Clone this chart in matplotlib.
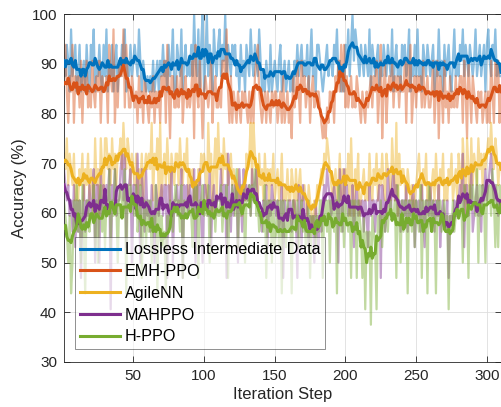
import numpy as np
import pandas as pd
import matplotlib
matplotlib.use('Agg')
import matplotlib.pyplot as plt

# raw accuracy per iteration step (310 steps)
lossless_raw = [
    90.6, 87.5, 93.8, 90.6, 84.4, 96.9, 87.5, 90.6, 93.8, 84.4,
    87.5, 93.8, 84.4, 87.5, 90.6, 84.4, 93.8, 87.5, 84.4, 93.8,
    90.6, 96.9, 84.4, 90.6, 87.5, 93.8, 87.5, 84.4, 93.8, 87.5,
    96.9, 84.4, 90.6, 87.5, 93.8, 84.4, 90.6, 93.8, 84.4, 90.6,
    87.5, 93.8, 90.6, 96.9, 84.4, 90.6, 87.5, 93.8, 87.5, 90.6,
    93.8, 90.6, 87.5, 96.9, 90.6, 84.4, 90.6, 87.5, 84.4, 87.5,
    84.4, 87.5, 84.4, 90.6, 84.4, 87.5, 90.6, 84.4, 90.6, 87.5,
    93.8, 87.5, 90.6, 84.4, 93.8, 87.5, 90.6, 96.9, 84.4, 84.4,
    93.8, 90.6, 87.5, 96.9, 84.4, 90.6, 93.8, 87.5, 90.6, 87.5,
    93.8, 87.5, 100.0, 90.6, 87.5, 96.9, 84.4, 93.8, 100.0, 84.4,
    90.6, 100.0, 87.5, 93.8, 90.6, 84.4, 96.9, 90.6, 87.5, 93.8,
    96.9, 87.5, 93.8, 90.6, 100.0, 87.5, 93.8, 90.6, 87.5, 93.8,
    90.6, 93.8, 87.5, 90.6, 84.4, 93.8, 87.5, 90.6, 84.4, 93.8,
    90.6, 87.5, 96.9, 90.6, 87.5, 93.8, 90.6, 87.5, 96.9, 90.6,
    84.4, 87.5, 84.4, 90.6, 87.5, 84.4, 93.8, 84.4, 87.5, 90.6,
    87.5, 84.4, 90.6, 93.8, 84.4, 87.5, 90.6, 84.4, 87.5, 90.6,
    84.4, 87.5, 84.4, 90.6, 87.5, 93.8, 87.5, 90.6, 93.8, 87.5,
    90.6, 87.5, 93.8, 84.4, 90.6, 96.9, 87.5, 90.6, 84.4, 93.8,
    93.8, 90.6, 87.5, 84.4, 87.5, 90.6, 93.8, 87.5, 90.6, 90.6,
    87.5, 93.8, 90.6, 96.9, 87.5, 90.6, 84.4, 87.5, 84.4, 93.8,
    90.6, 96.9, 87.5, 93.8, 100.0, 90.6, 96.9, 93.8, 90.6, 87.5,
    93.8, 90.6, 87.5, 93.8, 90.6, 87.5, 96.9, 84.4, 93.8, 90.6,
    87.5, 90.6, 93.8, 84.4, 90.6, 87.5, 93.8, 90.6, 87.5, 93.8,
    90.6, 87.5, 96.9, 84.4, 90.6, 93.8, 87.5, 90.6, 84.4, 93.8,
    90.6, 93.8, 87.5, 90.6, 96.9, 84.4, 90.6, 87.5, 93.8, 87.5,
    96.9, 87.5, 90.6, 84.4, 93.8, 90.6, 87.5, 93.8, 90.6, 87.5,
    90.6, 93.8, 84.4, 90.6, 87.5, 96.9, 87.5, 90.6, 84.4, 93.8,
    87.5, 90.6, 93.8, 87.5, 84.4, 90.6, 96.9, 87.5, 90.6, 87.5,
    93.8, 90.6, 96.9, 87.5, 93.8, 90.6, 87.5, 93.8, 90.6, 87.5,
    90.6, 96.9, 87.5, 90.6, 93.8, 87.5, 90.6, 93.8, 84.4, 93.8,
    96.9, 90.6, 87.5, 93.8, 90.6, 96.9, 87.5, 90.6, 87.5, 87.5,
]
emh_raw = [
    87.5, 93.8, 84.4, 78.1, 87.5, 84.4, 93.8, 78.1, 87.5, 84.4,
    87.5, 81.2, 90.6, 78.1, 87.5, 84.4, 90.6, 81.2, 84.4, 81.2,
    90.6, 84.4, 81.2, 87.5, 84.4, 90.6, 78.1, 87.5, 84.4, 84.4,
    87.5, 78.1, 93.8, 87.5, 84.4, 96.9, 78.1, 87.5, 81.2, 90.6,
    90.6, 87.5, 96.9, 81.2, 93.8, 87.5, 81.2, 81.2, 87.5, 84.4,
    81.2, 84.4, 78.1, 87.5, 81.2, 84.4, 78.1, 87.5, 84.4, 81.2,
    78.1, 84.4, 81.2, 87.5, 78.1, 84.4, 81.2, 84.4, 78.1, 87.5,
    84.4, 90.6, 78.1, 93.8, 84.4, 75.0, 87.5, 87.5, 81.2, 81.2,
    87.5, 81.2, 84.4, 90.6, 78.1, 84.4, 87.5, 81.2, 84.4, 81.2,
    84.4, 90.6, 75.0, 93.8, 84.4, 81.2, 90.6, 84.4, 75.0, 84.4,
    87.5, 84.4, 81.2, 84.4, 90.6, 78.1, 84.4, 87.5, 81.2, 81.2,
    84.4, 81.2, 90.6, 90.6, 87.5, 96.9, 84.4, 78.1, 87.5, 78.1,
    84.4, 81.2, 78.1, 84.4, 81.2, 78.1, 84.4, 81.2, 84.4, 81.2,
    78.1, 84.4, 78.1, 84.4, 78.1, 87.5, 90.6, 93.8, 84.4, 81.2,
    78.1, 81.2, 84.4, 78.1, 84.4, 81.2, 78.1, 84.4, 81.2, 84.4,
    84.4, 78.1, 81.2, 84.4, 78.1, 87.5, 78.1, 81.2, 84.4, 78.1,
    81.2, 75.0, 87.5, 81.2, 84.4, 90.6, 84.4, 78.1, 90.6, 84.4,
    87.5, 81.2, 84.4, 87.5, 78.1, 84.4, 87.5, 81.2, 84.4, 84.4,
    84.4, 81.2, 78.1, 75.0, 78.1, 75.0, 81.2, 78.1, 84.4, 81.2,
    84.4, 78.1, 87.5, 84.4, 90.6, 84.4, 93.8, 84.4, 93.8, 81.2,
    87.5, 81.2, 84.4, 87.5, 81.2, 84.4, 81.2, 87.5, 84.4, 81.2,
    78.1, 84.4, 81.2, 78.1, 84.4, 81.2, 84.4, 87.5, 81.2, 87.5,
    84.4, 90.6, 78.1, 84.4, 93.8, 75.0, 84.4, 90.6, 78.1, 84.4,
    87.5, 84.4, 90.6, 81.2, 87.5, 84.4, 87.5, 81.2, 87.5, 84.4,
    84.4, 90.6, 78.1, 90.6, 84.4, 93.8, 78.1, 84.4, 87.5, 81.2,
    87.5, 84.4, 87.5, 81.2, 90.6, 81.2, 84.4, 87.5, 81.2, 81.2,
    84.4, 90.6, 78.1, 84.4, 90.6, 75.0, 87.5, 84.4, 78.1, 90.6,
    81.2, 84.4, 78.1, 87.5, 81.2, 84.4, 81.2, 87.5, 81.2, 84.4,
    87.5, 87.5, 78.1, 90.6, 84.4, 75.0, 90.6, 84.4, 78.1, 87.5,
    84.4, 81.2, 78.1, 84.4, 81.2, 84.4, 78.1, 81.2, 84.4, 78.1,
    84.4, 78.1, 90.6, 84.4, 78.1, 90.6, 84.4, 90.6, 78.1, 84.4,
]
agile_raw = [
    71.9, 68.8, 75.0, 65.6, 71.9, 68.8, 65.6, 71.9, 62.5, 65.6,
    62.5, 68.8, 65.6, 71.9, 62.5, 68.8, 65.6, 71.9, 62.5, 68.8,
    65.6, 59.4, 75.0, 65.6, 68.8, 59.4, 75.0, 68.8, 62.5, 75.0,
    75.0, 68.8, 71.9, 65.6, 75.0, 68.8, 71.9, 65.6, 71.9, 71.9,
    75.0, 68.8, 78.1, 71.9, 68.8, 75.0, 71.9, 65.6, 71.9, 68.8,
    65.6, 71.9, 62.5, 68.8, 65.6, 71.9, 62.5, 68.8, 71.9, 68.8,
    71.9, 68.8, 78.1, 62.5, 71.9, 68.8, 75.0, 62.5, 78.1, 62.5,
    68.8, 71.9, 65.6, 75.0, 68.8, 62.5, 71.9, 68.8, 65.6, 71.9,
    71.9, 65.6, 75.0, 68.8, 65.6, 71.9, 68.8, 75.0, 62.5, 68.8,
    65.6, 68.8, 62.5, 65.6, 62.5, 68.8, 65.6, 71.9, 68.8, 71.9,
    68.8, 62.5, 78.1, 68.8, 71.9, 59.4, 68.8, 75.0, 62.5, 78.1,
    68.8, 71.9, 65.6, 75.0, 68.8, 71.9, 65.6, 68.8, 71.9, 65.6,
    68.8, 65.6, 62.5, 68.8, 62.5, 65.6, 59.4, 65.6, 62.5, 71.9,
    68.8, 71.9, 78.1, 65.6, 78.1, 71.9, 68.8, 62.5, 71.9, 65.6,
    68.8, 62.5, 71.9, 65.6, 68.8, 62.5, 68.8, 65.6, 71.9, 62.5,
    65.6, 68.8, 62.5, 65.6, 71.9, 62.5, 65.6, 62.5, 68.8, 62.5,
    62.5, 68.8, 65.6, 59.4, 68.8, 62.5, 65.6, 68.8, 62.5, 62.5,
    65.6, 62.5, 59.4, 65.6, 62.5, 59.4, 56.2, 62.5, 59.4, 65.6,
    62.5, 65.6, 68.8, 65.6, 71.9, 68.8, 75.0, 71.9, 68.8, 65.6,
    62.5, 65.6, 68.8, 62.5, 65.6, 71.9, 62.5, 68.8, 62.5, 68.8,
    65.6, 71.9, 59.4, 75.0, 65.6, 59.4, 68.8, 65.6, 71.9, 59.4,
    62.5, 65.6, 68.8, 62.5, 65.6, 62.5, 71.9, 65.6, 62.5, 68.8,
    65.6, 71.9, 62.5, 68.8, 65.6, 71.9, 65.6, 62.5, 71.9, 68.8,
    68.8, 62.5, 75.0, 68.8, 62.5, 78.1, 59.4, 71.9, 65.6, 68.8,
    68.8, 65.6, 62.5, 68.8, 65.6, 62.5, 65.6, 59.4, 62.5, 65.6,
    68.8, 71.9, 65.6, 62.5, 68.8, 65.6, 71.9, 62.5, 65.6, 62.5,
    65.6, 68.8, 62.5, 71.9, 65.6, 62.5, 68.8, 65.6, 71.9, 62.5,
    65.6, 62.5, 68.8, 65.6, 71.9, 62.5, 65.6, 68.8, 62.5, 71.9,
    68.8, 62.5, 75.0, 68.8, 59.4, 75.0, 68.8, 62.5, 75.0, 65.6,
    71.9, 68.8, 65.6, 75.0, 68.8, 71.9, 65.6, 71.9, 68.8, 71.9,
    75.0, 71.9, 78.1, 71.9, 68.8, 75.0, 71.9, 65.6, 68.8, 68.8,
]
mahppo_raw = [
    68.8, 65.6, 62.5, 65.6, 59.4, 62.5, 56.2, 65.6, 53.1, 62.5,
    56.2, 62.5, 46.9, 59.4, 65.6, 56.2, 62.5, 59.4, 65.6, 59.4,
    62.5, 68.8, 50.0, 65.6, 65.6, 50.0, 68.8, 59.4, 65.6, 62.5,
    65.6, 62.5, 68.8, 40.6, 65.6, 62.5, 68.8, 59.4, 62.5, 62.5,
    68.8, 71.9, 62.5, 71.9, 53.1, 65.6, 65.6, 68.8, 50.0, 65.6,
    65.6, 59.4, 71.9, 62.5, 50.0, 68.8, 62.5, 56.2, 68.8, 59.4,
    62.5, 56.2, 65.6, 59.4, 50.0, 65.6, 62.5, 59.4, 62.5, 65.6,
    59.4, 65.6, 65.6, 46.9, 65.6, 59.4, 68.8, 50.0, 62.5, 62.5,
    65.6, 59.4, 62.5, 68.8, 46.9, 65.6, 62.5, 65.6, 59.4, 65.6,
    62.5, 59.4, 68.8, 50.0, 65.6, 59.4, 68.8, 59.4, 50.0, 65.6,
    65.6, 62.5, 59.4, 68.8, 53.1, 62.5, 65.6, 59.4, 62.5, 62.5,
    62.5, 68.8, 59.4, 65.6, 65.6, 46.9, 71.9, 62.5, 56.2, 65.6,
    59.4, 65.6, 65.6, 50.0, 68.8, 62.5, 56.2, 68.8, 62.5, 65.6,
    62.5, 65.6, 59.4, 68.8, 62.5, 65.6, 68.8, 62.5, 59.4, 59.4,
    56.2, 62.5, 59.4, 65.6, 53.1, 62.5, 59.4, 65.6, 62.5, 62.5,
    59.4, 62.5, 56.2, 59.4, 65.6, 46.9, 62.5, 59.4, 59.4, 62.5,
    62.5, 56.2, 62.5, 62.5, 59.4, 46.9, 65.6, 62.5, 53.1, 65.6,
    59.4, 56.2, 62.5, 53.1, 59.4, 56.2, 59.4, 50.0, 62.5, 56.2,
    53.1, 59.4, 56.2, 62.5, 65.6, 62.5, 68.8, 65.6, 62.5, 59.4,
    62.5, 65.6, 62.5, 62.5, 50.0, 68.8, 62.5, 56.2, 68.8, 62.5,
    65.6, 59.4, 62.5, 59.4, 65.6, 53.1, 62.5, 65.6, 59.4, 62.5,
    59.4, 62.5, 56.2, 62.5, 59.4, 53.1, 65.6, 59.4, 62.5, 62.5,
    56.2, 62.5, 62.5, 65.6, 46.9, 65.6, 62.5, 56.2, 59.4, 68.8,
    62.5, 59.4, 65.6, 68.8, 62.5, 65.6, 59.4, 62.5, 56.2, 62.5,
    62.5, 59.4, 65.6, 56.2, 62.5, 59.4, 62.5, 65.6, 53.1, 62.5,
    59.4, 62.5, 56.2, 65.6, 59.4, 53.1, 62.5, 62.5, 59.4, 65.6,
    59.4, 62.5, 56.2, 62.5, 59.4, 65.6, 53.1, 59.4, 62.5, 59.4,
    56.2, 62.5, 46.9, 59.4, 59.4, 56.2, 62.5, 59.4, 59.4, 62.5,
    65.6, 62.5, 71.9, 53.1, 65.6, 65.6, 59.4, 62.5, 68.8, 56.2,
    59.4, 62.5, 65.6, 59.4, 62.5, 56.2, 65.6, 62.5, 68.8, 62.5,
    65.6, 68.8, 71.9, 65.6, 62.5, 65.6, 62.5, 59.4, 62.5, 62.5,
]
hppo_raw = [
    62.5, 59.4, 56.2, 50.0, 59.4, 43.8, 50.0, 62.5, 56.2, 65.6,
    56.2, 62.5, 50.0, 65.6, 56.2, 43.8, 62.5, 62.5, 56.2, 59.4,
    59.4, 65.6, 53.1, 62.5, 50.0, 62.5, 65.6, 56.2, 62.5, 53.1,
    62.5, 59.4, 68.8, 53.1, 62.5, 59.4, 68.8, 62.5, 50.0, 62.5,
    65.6, 62.5, 59.4, 68.8, 43.8, 65.6, 62.5, 65.6, 62.5, 62.5,
    59.4, 65.6, 56.2, 59.4, 65.6, 46.9, 59.4, 62.5, 53.1, 62.5,
    56.2, 62.5, 50.0, 59.4, 56.2, 65.6, 43.8, 62.5, 56.2, 59.4,
    53.1, 56.2, 43.8, 59.4, 56.2, 62.5, 59.4, 56.2, 62.5, 65.6,
    59.4, 62.5, 56.2, 65.6, 46.9, 62.5, 59.4, 62.5, 59.4, 62.5,
    59.4, 53.1, 65.6, 59.4, 65.6, 46.9, 62.5, 62.5, 65.6, 59.4,
    62.5, 59.4, 65.6, 50.0, 62.5, 59.4, 62.5, 56.2, 62.5, 59.4,
    59.4, 65.6, 56.2, 62.5, 59.4, 65.6, 46.9, 62.5, 59.4, 65.6,
    62.5, 59.4, 68.8, 53.1, 62.5, 59.4, 65.6, 65.6, 50.0, 62.5,
    62.5, 65.6, 59.4, 65.6, 62.5, 68.8, 59.4, 62.5, 56.2, 59.4,
    59.4, 56.2, 65.6, 46.9, 62.5, 56.2, 62.5, 50.0, 62.5, 53.1,
    56.2, 62.5, 53.1, 62.5, 43.8, 62.5, 56.2, 53.1, 62.5, 56.2,
    59.4, 43.8, 62.5, 59.4, 56.2, 62.5, 53.1, 59.4, 62.5, 56.2,
    59.4, 53.1, 56.2, 62.5, 46.9, 59.4, 56.2, 59.4, 53.1, 59.4,
    56.2, 62.5, 62.5, 46.9, 62.5, 62.5, 56.2, 62.5, 50.0, 62.5,
    62.5, 56.2, 62.5, 43.8, 65.6, 59.4, 56.2, 62.5, 53.1, 62.5,
    59.4, 56.2, 62.5, 46.9, 62.5, 56.2, 62.5, 46.9, 62.5, 59.4,
    56.2, 46.9, 59.4, 40.6, 56.2, 53.1, 56.2, 37.5, 59.4, 56.2,
    53.1, 40.6, 59.4, 56.2, 62.5, 53.1, 59.4, 56.2, 62.5, 56.2,
    62.5, 62.5, 59.4, 59.4, 62.5, 46.9, 65.6, 59.4, 50.0, 62.5,
    56.2, 62.5, 62.5, 43.8, 62.5, 62.5, 56.2, 62.5, 53.1, 62.5,
    59.4, 56.2, 65.6, 46.9, 62.5, 56.2, 62.5, 43.8, 65.6, 62.5,
    56.2, 62.5, 59.4, 43.8, 62.5, 59.4, 62.5, 56.2, 59.4, 62.5,
    56.2, 59.4, 40.6, 59.4, 56.2, 62.5, 56.2, 59.4, 62.5, 62.5,
    59.4, 62.5, 50.0, 65.6, 62.5, 62.5, 46.9, 65.6, 62.5, 65.6,
    62.5, 59.4, 68.8, 50.0, 65.6, 59.4, 65.6, 62.5, 50.0, 65.6,
    62.5, 65.6, 59.4, 68.8, 62.5, 53.1, 65.6, 53.1, 65.6, 62.5,
]

labels = ['Lossless Intermediate Data', 'EMH-PPO', 'AgileNN', 'MAHPPO', 'H-PPO']
colors = ['#0072BD', '#D95319', '#EDB120', '#7E2F8E', '#77AC30']
series = [lossless_raw, emh_raw, agile_raw, mahppo_raw, hppo_raw]

steps = np.arange(1, len(lossless_raw) + 1)

plt.rcParams['font.family'] = ['Liberation Sans', 'DejaVu Sans']
ink = '#262626'

fig = plt.figure(figsize=(5.02, 4.07), dpi=100)
ax = fig.add_axes([0.1275, 0.1106, 0.8705, 0.855])

# raw curves (faint)
for vals, c in zip(series, colors):
    ax.plot(steps, vals, color=c, alpha=0.45, linewidth=1.6, zorder=2)

# smoothed curves
for vals, c, lab in zip(series, colors, labels):
    smooth = pd.Series(vals).rolling(window=7, center=True, min_periods=1).mean()
    ax.plot(steps, smooth, color=c, linewidth=2.2, label=lab, zorder=3)

ax.set_xlim(1, 310)
ax.set_ylim(30, 100)
ax.set_xticks([50, 100, 150, 200, 250, 300])
ax.set_yticks(np.arange(30, 101, 10))
ax.grid(True, color='#dedede', linewidth=0.6)
ax.set_axisbelow(True)
ax.tick_params(direction='in', top=True, right=True, length=4, width=0.6,
               colors=ink, labelsize=11, pad=5)
for sp in ax.spines.values():
    sp.set_color(ink)
    sp.set_linewidth(0.6)
ax.set_xlabel('Iteration Step', fontsize=12, color=ink, labelpad=3)
ax.set_ylabel('Accuracy (%)', fontsize=12, color=ink, labelpad=3)

leg = ax.legend(loc='lower left', bbox_to_anchor=(0.025, 0.037), borderaxespad=0,
                fontsize=11.6, frameon=True, fancybox=False, framealpha=0.6,
                edgecolor=ink, handlelength=2.5, handletextpad=0.3,
                labelspacing=0.42, borderpad=0.3)
leg.get_frame().set_linewidth(0.6)
for t in leg.get_texts():
    t.set_color('black')

fig.savefig('out.png', dpi=100)
